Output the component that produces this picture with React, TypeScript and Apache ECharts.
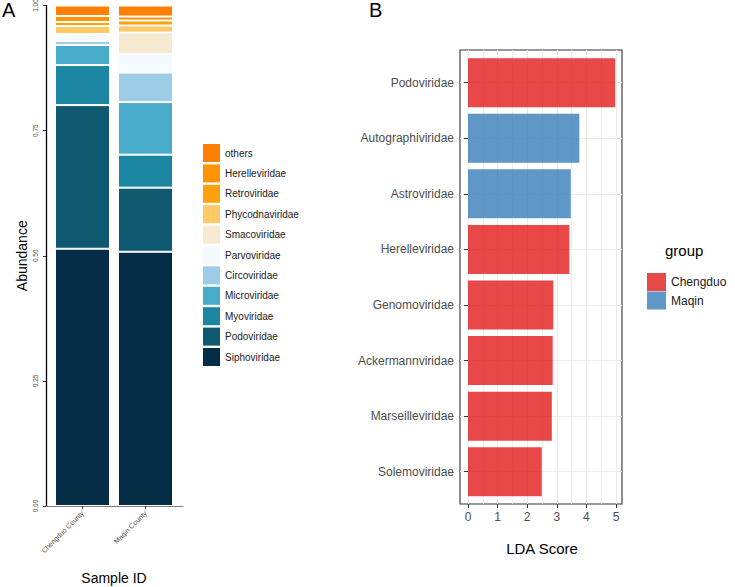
import React, { useEffect, useRef } from "react";
import * as echarts from "echarts";

const samples = ["Chengduo County", "Maqin County"];
const taxa = ["Siphoviridae", "Podoviridae", "Myoviridae", "Microviridae", "Circoviridae", "Parvoviridae", "Smacoviridae", "Phycodnaviridae", "Retroviridae", "Herelleviridae", "others"];
const taxaColors = ["#052D45", "#0E5870", "#1C86A2", "#48ABCA", "#9DCCE6", "#F5FAFE", "#F5E9D0", "#FFC966", "#FFA10A", "#FF9205", "#FF8000"];
const chengduo = [0.514, 0.287, 0.080, 0.040, 0.008, 0.012, 0.002, 0.016, 0.008, 0.012, 0.021];
const maqin = [0.508, 0.128, 0.066, 0.105, 0.059, 0.037, 0.043, 0.014, 0.010, 0.008, 0.022];
const abundanceTicks = [0, 0.25, 0.5, 0.75, 1];

const ldaTaxa = ["Podoviridae", "Autographiviridae", "Astroviridae", "Herelleviridae", "Genomoviridae", "Ackermannviridae", "Marseilleviridae", "Solemoviridae"];
const ldaScores = [4.97, 3.76, 3.47, 3.42, 2.88, 2.86, 2.83, 2.49];
const ldaGroup = ["Chengduo", "Maqin", "Maqin", "Chengduo", "Chengduo", "Chengduo", "Chengduo", "Chengduo"];
const groups = ["Chengduo", "Maqin"];
const groupColors = ["rgba(228,26,28,0.8)", "rgba(55,126,184,0.8)"];

const FONT = "Liberation Sans, Arial, Helvetica, sans-serif";

export default function App() {
  const ref = useRef<HTMLDivElement>(null);
  useEffect(() => {
    const chart = echarts.init(ref.current!, null, { renderer: "svg" });
    const stackSeries = taxa.map((t, i) => ({
      type: "bar",
      name: t,
      stack: "ab",
      xAxisIndex: 1,
      yAxisIndex: 1,
      barWidth: 55,
      clip: false,
      data: [chengduo[i], maqin[i]],
      itemStyle: { color: taxaColors[i], borderColor: "#ffffff", borderWidth: 1 },
    }));
    const ldaSeries = groups.map((g, gi) => ({
      type: "bar",
      name: g,
      stack: "lda",
      xAxisIndex: 2,
      yAxisIndex: 2,
      barWidth: 49,
      clip: false,
      data: ldaScores.map((s, i) => (ldaGroup[i] === g ? s : "-")),
      itemStyle: { color: groupColors[gi] },
    }));
    const ob = { outerBoundsMode: "none", containLabel: false };
    chart.setOption({
      animation: false,
      textStyle: { fontFamily: FONT },
      grid: [
        { ...ob, left: 46, top: 5.5, width: 137, height: 500.5 },
        { ...ob, left: 82.5, top: 5.5, width: 63, height: 500.5 },
        { ...ob, left: 460, top: 82.7, width: 162, height: 389 },
        { ...ob, left: 468, top: 50, width: 148, height: 454 },
        { ...ob, left: 460, top: 50, width: 162, height: 454, show: true, borderColor: "#333333", borderWidth: 1.1, backgroundColor: "transparent" },
      ],
      xAxis: [
        {
          gridIndex: 0, type: "value", min: 0, max: 1,
          axisLine: { show: true, lineStyle: { color: "#7f7f7f", width: 1 } },
          axisTick: { show: false }, axisLabel: { show: false }, splitLine: { show: false },
        },
        {
          gridIndex: 1, type: "category", data: samples, boundaryGap: false,
          axisLine: { show: false },
          axisTick: { show: true, length: 3, alignWithLabel: true, lineStyle: { color: "#333333" } },
          axisLabel: { rotate: 45, fontSize: 7, color: "#4D4D4D", margin: 6, interval: 0, fontFamily: FONT },
          name: "Sample ID", nameLocation: "middle", nameGap: 65,
          nameTextStyle: { fontSize: 14, color: "#000000", fontFamily: FONT },
        },
        { gridIndex: 2, type: "value", min: -0.27, max: 5.2, show: false },
        {
          gridIndex: 3, type: "value", min: 0, max: 5, interval: 1,
          axisLine: { show: false },
          axisTick: { show: true, length: 4, lineStyle: { color: "#333333" } },
          minorTick: { show: false, splitNumber: 2 },
          minorSplitLine: { show: true, lineStyle: { color: "#EBEBEB", width: 0.8 } },
          splitLine: { show: true, lineStyle: { color: "#EBEBEB", width: 1 } },
          axisLabel: { fontSize: 12, color: "#4D4D4D", margin: 7, fontFamily: FONT },
          name: "LDA Score", nameLocation: "middle", nameGap: 37,
          nameTextStyle: { fontSize: 15, color: "#000000", fontFamily: FONT },
        },
        { gridIndex: 4, type: "value", show: false },
      ],
      yAxis: [
        {
          gridIndex: 0, type: "value", min: 0, max: 1, interval: 0.25,
          axisLine: { show: true, lineStyle: { color: "#000000", width: 1.3 } },
          axisTick: { show: true, length: 3, lineStyle: { color: "#333333" } },
          axisLabel: {
            rotate: 90, fontSize: 6.5, color: "#4D4D4D", margin: 7, fontFamily: FONT,
            formatter: (v: number) => abundanceTicks.includes(v) ? v.toFixed(2) : "",
          },
          splitLine: { show: false },
          name: "Abundance", nameLocation: "middle", nameGap: 17,
          nameTextStyle: { fontSize: 14, color: "#000000", fontFamily: FONT },
        },
        { gridIndex: 1, type: "value", min: 0, max: 1, show: false },
        {
          gridIndex: 2, type: "category", data: ldaTaxa, inverse: true, boundaryGap: false,
          axisLine: { show: false },
          axisTick: { show: true, length: 4, alignWithLabel: true, lineStyle: { color: "#333333" } },
          axisLabel: { fontSize: 12, color: "#4D4D4D", margin: 6, interval: 0, fontFamily: FONT },
          splitLine: { show: true, interval: 0, lineStyle: { color: "#EBEBEB", width: 1 } },
        },
        { gridIndex: 3, type: "value", show: false },
        { gridIndex: 4, type: "value", show: false },
      ],
      legend: [
        {
          data: taxa.slice().reverse(),
          orient: "vertical", left: 203, top: 144, padding: 0,
          itemWidth: 17, itemHeight: 18, itemGap: 2.4, icon: "rect",
          itemStyle: { borderWidth: 0 },
          textStyle: { fontSize: 10, color: "#1a1a1a", fontFamily: FONT },
          selectedMode: false,
        },
        {
          data: groups,
          orient: "vertical", left: 647, top: 273, padding: 0,
          itemWidth: 19, itemHeight: 18, itemGap: 0.5, icon: "rect",
          textStyle: { fontSize: 12, color: "#1a1a1a", fontFamily: FONT },
          selectedMode: false,
        },
      ],
      graphic: [
        { type: "text", left: 2, top: 0, style: { text: "A", fontSize: 20, fill: "#000", fontFamily: FONT } },
        { type: "text", left: 369, top: 0, style: { text: "B", fontSize: 20, fill: "#000", fontFamily: FONT } },
        { type: "text", left: 665, top: 243, style: { text: "group", fontSize: 15, fill: "#000", fontFamily: FONT } },
      ],
      series: [...stackSeries, ...ldaSeries],
    });
    return () => chart.dispose();
  }, []);
  return <div ref={ref} style={{ position: "fixed", left: 0, top: 0, width: 735, height: 587, background: "#fff" }} />;
}
